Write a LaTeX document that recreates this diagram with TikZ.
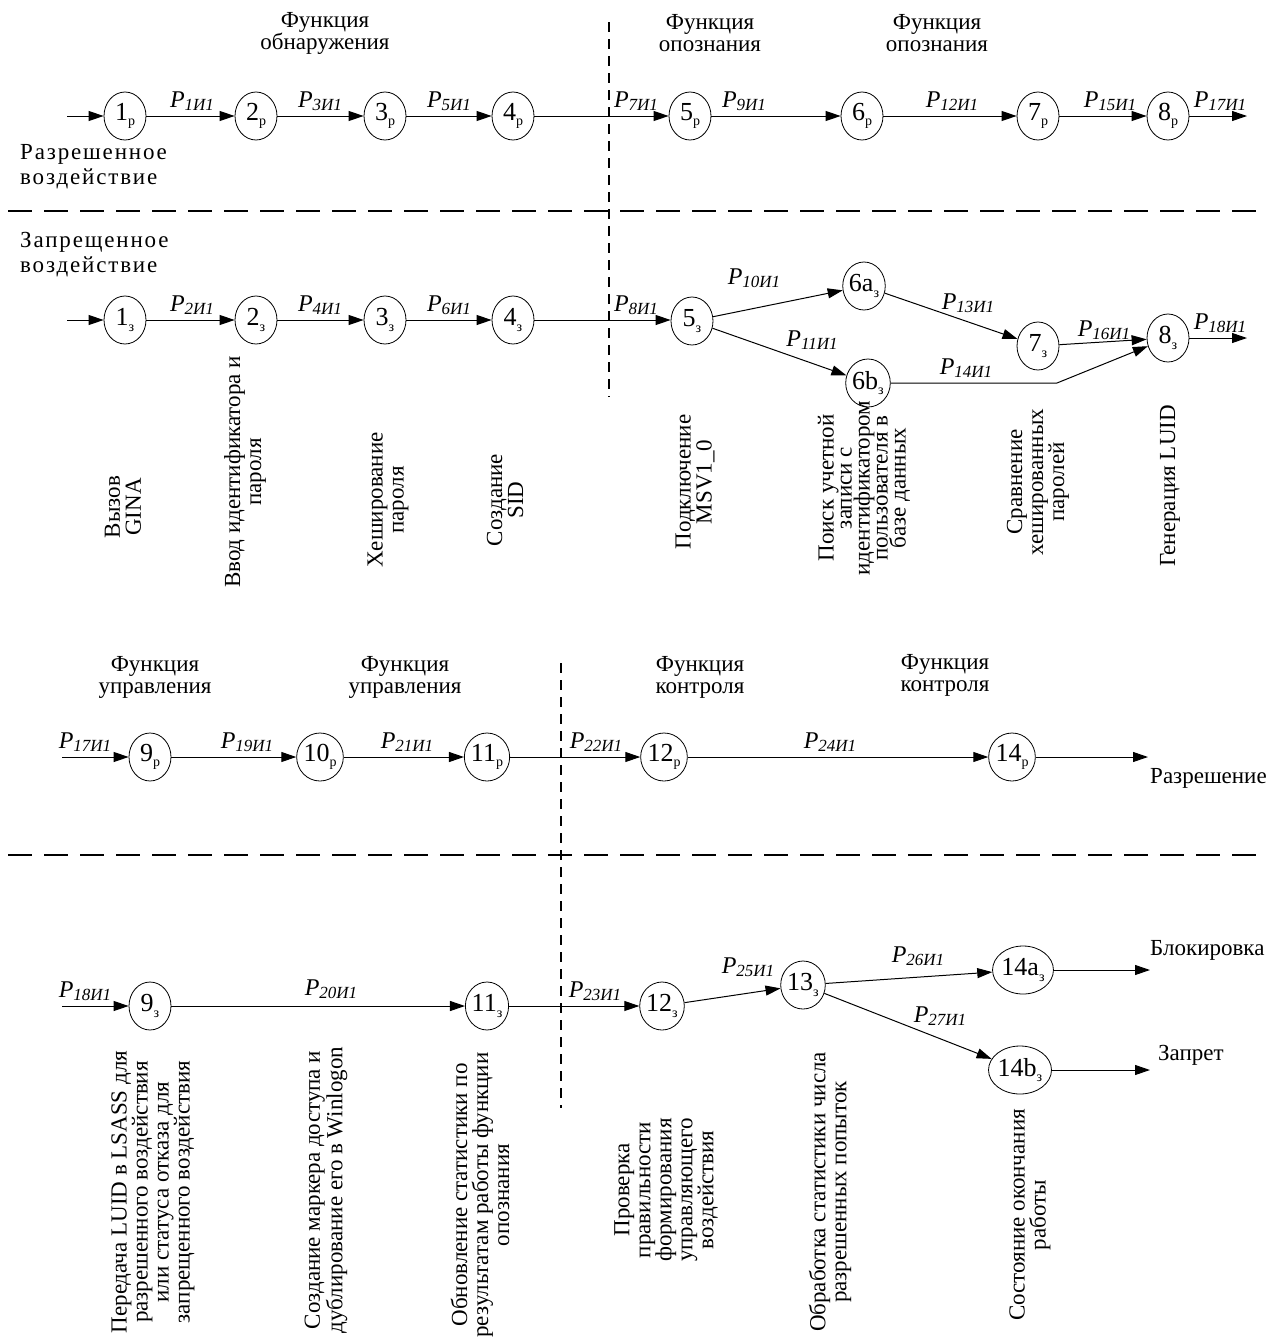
\documentclass[tikz,border=0pt]{standalone}
\usepackage{fontspec}
\setmainfont{Liberation Serif}
\newfontfamily\spaced[LetterSpace=8]{Liberation Serif}
\usetikzlibrary{shapes.geometric,arrows.meta}
\newcommand\nd[2]{{\fontsize{26}{26}\selectfont #1\raisebox{-0.45ex}{\fontsize{14}{14}\selectfont #2}}}
\newcommand\pl[1]{{\fontsize{24}{24}\selectfont\itshape P\raisebox{-0.35ex}{\fontsize{17}{17}\selectfont #1}}}
\begin{document}
\begin{tikzpicture}[x=1pt,y=-1pt,
  st/.style={ellipse,draw,line width=0.8pt,minimum width=42pt,minimum height=48pt,inner sep=0pt},
  ar/.style={line width=1pt,-{Triangle[length=15pt,width=10pt]}},
  hsep/.style={line width=2.6pt,dash pattern=on 24pt off 12pt},
  vsep/.style={line width=2.6pt,dash pattern=on 10pt off 7pt},
  lbl/.style={inner sep=0pt,anchor=base},
  hdr/.style={align=center,inner sep=0pt,font=\fontsize{23}{22}\selectfont},
  side/.style={align=left,inner sep=0pt,anchor=north west,font=\spaced\fontsize{23}{25}\selectfont},
  rot/.style={rotate=90,align=center,inner sep=0pt,font=\fontsize{23}{21}\selectfont},
  word/.style={inner sep=0pt,font=\fontsize{23}{23}\selectfont},
]
\useasboundingbox (0,0) rectangle (1277,1339);

% separators
\coordinate (h1a) at (8,211);   \coordinate (h1b) at (1262,211);
\coordinate (h2a) at (8,855);   \coordinate (h2b) at (1262,855);
\coordinate (v1a) at (609,22);  \coordinate (v1b) at (609,397);
\coordinate (v2a) at (561,663); \coordinate (v2b) at (561,1108);
\draw[hsep] (h1a) -- (h1b);
\draw[hsep] (h2a) -- (h2b);
\draw[vsep] (v1a) -- (v1b);
\draw[vsep] (v2a) -- (v2b);

% headers
\node[hdr] (hA) at (325,33) {Функция\\обнаружения};
\node[hdr] (hB) at (710,33) {Функция\\опознания};
\node[hdr] (hC) at (937,33) {Функция\\опознания};
\node[hdr] (hD) at (155,677) {Функция\\управления};
\node[hdr] (hE) at (405,677) {Функция\\управления};
\node[hdr] (hF) at (700,677) {Функция\\контроля};
\node[hdr] (hG) at (945,675) {Функция\\контроля};

\node[side] (sA) at (20,144) {Разрешенное\\воздействие};
\node[side] (sB) at (20,232) {Запрещенное\\воздействие};

% ---------- row 1
\node[st] (r1) at (125,116) {\nd{1}{р}};
\node[st] (r2) at (256,116) {\nd{2}{р}};
\node[st] (r3) at (385,116) {\nd{3}{р}};
\node[st] (r4) at (513,116) {\nd{4}{р}};
\node[st] (r5) at (690,116) {\nd{5}{р}};
\node[st] (r6) at (862,116) {\nd{6}{р}};
\node[st] (r7) at (1038,116) {\nd{7}{р}};
\node[st] (r8) at (1168,116) {\nd{8}{р}};
\coordinate (r0) at (67,116);
\coordinate (r9) at (1247,116);
\draw[ar] (r0) -- (r1);
\draw[ar] (r1) -- (r2);
\draw[ar] (r2) -- (r3);
\draw[ar] (r3) -- (r4);
\draw[ar] (r4) -- (r5);
\draw[ar] (r5) -- (r6);
\draw[ar] (r6) -- (r7);
\draw[ar] (r7) -- (r8);
\draw[ar] (r8) -- (r9);
\node[lbl] (p1) at (192,107) {\pl{1И1}};
\node[lbl] (p3) at (320,107) {\pl{3И1}};
\node[lbl] (p5) at (449,107) {\pl{5И1}};
\node[lbl] (p7) at (636,107) {\pl{7И1}};
\node[lbl] (p9) at (744,107) {\pl{9И1}};
\node[lbl] (p12) at (952,107) {\pl{12И1}};
\node[lbl] (p15) at (1110,107) {\pl{15И1}};
\node[lbl] (p17a) at (1220,107) {\pl{17И1}};

% ---------- row 2
\node[st] (z1) at (125,320) {\nd{1}{з}};
\node[st] (z2) at (256,320) {\nd{2}{з}};
\node[st] (z3) at (385,320) {\nd{3}{з}};
\node[st] (z4) at (513,320) {\nd{4}{з}};
\node[st] (z5) at (692,321) {\nd{5}{з}};
\node[st] (z6a) at (864,286) {\nd{6a}{з}};
\node[st] (z6b) at (868,383) {\nd{6b}{з}};
\node[st] (z7) at (1038,346) {\nd{7}{з}};
\node[st] (z8) at (1168,338) {\nd{8}{з}};
\coordinate (z0) at (67,320);
\coordinate (z9) at (1247,338);
\coordinate (zb) at (1057,383);
\draw[ar] (z0) -- (z1);
\draw[ar] (z1) -- (z2);
\draw[ar] (z2) -- (z3);
\draw[ar] (z3) -- (z4);
\draw[ar] (z4) -- (z5.west |- z4);
\draw[ar] (z5) -- (z6a);
\draw[ar] (z5) -- (z6b);
\draw[ar] (z6a) -- (z7);
\draw[ar] (z7) -- (z8);
\draw[ar] (z6b) -- (zb) -- (z8);
\draw[ar] (z8) -- (z9);
\node[lbl] (p2) at (192,311) {\pl{2И1}};
\node[lbl] (p4) at (320,311) {\pl{4И1}};
\node[lbl] (p6) at (449,311) {\pl{6И1}};
\node[lbl] (p8) at (636,311) {\pl{8И1}};
\node[lbl] (p10) at (754,284) {\pl{10И1}};
\node[lbl] (p11) at (812,346) {\pl{11И1}};
\node[lbl] (p13) at (968,309) {\pl{13И1}};
\node[lbl] (p14) at (966,374) {\pl{14И1}};
\node[lbl] (p16) at (1104,336) {\pl{16И1}};
\node[lbl] (p18a) at (1220,329) {\pl{18И1}};

% rotated captions row 2
\node[rot] (t1) at (123,507) {Вызов\\GINA};
\node[rot] (t2) at (245,472) {Ввод идентификатора и\\пароля};
\node[rot] (t3) at (388,500) {Хеширование\\пароля};
\node[rot] (t4) at (505,500) {Создание\\SID};
\node[rot] (t5) at (695,482) {Подключение\\MSV1\_0};
\node[rot,font=\fontsize{23}{18}\selectfont] (t6) at (864,488) {Поиск учетной\\записи с\\идентификатором\\пользователя в\\базе данных};
\node[rot] (t7) at (1038,482) {Сравнение\\хешированных\\паролей};
\node[rot] (t8) at (1170,486) {Генерация LUID};

% ---------- row 3
\node[st] (q9) at (150,757) {\nd{9}{р}};
\node[st] (q10) at (320,757) {\nd{10}{р}};
\node[st] (q11) at (487,757) {\nd{11}{р}};
\node[st] (q12) at (664,757) {\nd{12}{р}};
\node[st] (q14) at (1012,757) {\nd{14}{р}};
\coordinate (q0) at (62,757);
\coordinate (q15) at (1148,757);
\draw[ar] (q0) -- (q9);
\draw[ar] (q9) -- (q10);
\draw[ar] (q10) -- (q11);
\draw[ar] (q11) -- (q12);
\draw[ar] (q12) -- (q14);
\draw[ar] (q14) -- (q15);
\node[lbl] (p17b) at (85,748) {\pl{17И1}};
\node[lbl] (p19) at (247,748) {\pl{19И1}};
\node[lbl] (p21) at (407,748) {\pl{21И1}};
\node[lbl] (p22) at (596,748) {\pl{22И1}};
\node[lbl] (p24) at (830,748) {\pl{24И1}};
\node[word,anchor=west] (w1) at (1150,778) {Разрешение};

% ---------- row 4
\node[st] (y9) at (150,1006) {\nd{9}{з}};
\node[st] (y11) at (487,1006) {\nd{11}{з}};
\node[st] (y12) at (662,1006) {\nd{12}{з}};
\node[st] (y13) at (803,985) {\nd{13}{з}};
\node[st] (y14a) at (1023,970) {\nd{14a}{з}};
\node[st] (y14b) at (1020,1070) {\nd{14b}{з}};
\coordinate (y0) at (62,1006);
\coordinate (ya) at (1150,970);
\coordinate (yb) at (1150,1070);
\draw[ar] (y0) -- (y9);
\draw[ar] (y9) -- (y11);
\draw[ar] (y11) -- (y12);
\draw[ar] (y12) -- (y13);
\draw[ar] (y13) -- (y14a);
\draw[ar] (y13) -- (y14b);
\draw[ar] (y14a) -- (ya);
\draw[ar] (y14b) -- (yb);
\node[lbl] (p18b) at (85,997) {\pl{18И1}};
\node[lbl] (p20) at (331,995) {\pl{20И1}};
\node[lbl] (p23) at (595,997) {\pl{23И1}};
\node[lbl] (p25) at (748,973) {\pl{25И1}};
\node[lbl] (p26) at (918,962) {\pl{26И1}};
\node[lbl] (p27) at (940,1022) {\pl{27И1}};
\node[word,anchor=west] (w2) at (1150,950) {Блокировка};
\node[word,anchor=west] (w3) at (1158,1055) {Запрет};

% rotated captions row 4
\node[rot] (u1) at (153,1192) {Передача LUID в LSASS для\\разрешенного воздействия\\или статуса отказа для\\запрещенного воздействия};
\node[rot] (u2) at (326,1190) {Создание маркера доступа и\\дублирование его в Winlogon};
\node[rot] (u3) at (480,1195) {Обновление статистики по\\результатам работы функции\\опознания};
\node[rot] (u4) at (666,1190) {Проверка\\правильности\\формирования\\управляющего\\воздействия};
\node[rot] (u5) at (830,1192) {Обработка статистики числа\\разрешенных попыток};
\node[rot] (u6) at (1030,1215) {Состояние окончания\\работы};
\end{tikzpicture}
\end{document}
